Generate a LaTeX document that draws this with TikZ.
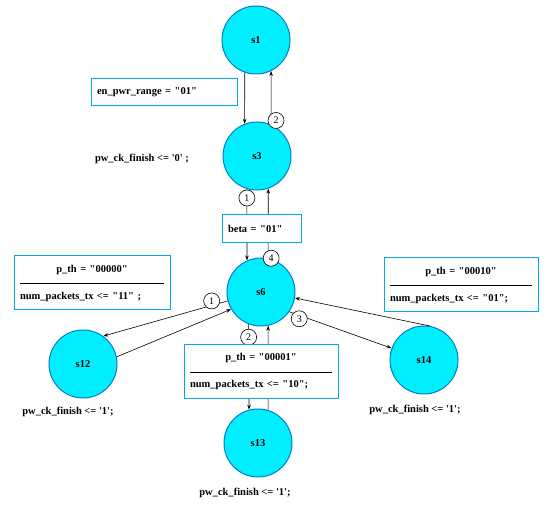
\documentclass[tikz,border=0pt]{standalone}
\usepackage{fontspec}
\setmainfont{Liberation Serif}
\usetikzlibrary{arrows.meta, positioning}
\definecolor{statefill}{RGB}{0,238,255}
\definecolor{stateedge}{RGB}{0,128,200}
\definecolor{boxedge}{RGB}{0,170,230}
\tikzset{
  state/.style={circle, draw=stateedge, fill=statefill, minimum size=68pt,
    inner sep=0pt, line width=1pt, font=\bfseries\fontsize{10.5}{12}\selectfont},
  condbox/.style={rectangle, draw=boxedge, fill=white, line width=1pt,
    align=left, inner xsep=6pt, font=\bfseries\fontsize{10.5}{12}\selectfont},
  actbox/.style={condbox, minimum height=54pt},
  acttext/.style={font=\bfseries\fontsize{10.5}{12}\selectfont, inner sep=0pt},
  numlbl/.style={circle, draw=black, fill=white, minimum size=16pt,
    inner sep=0pt, line width=0.6pt, font=\fontsize{10}{11}\selectfont},
  arrow/.style={-{Stealth[length=5pt, width=3.5pt]}, line width=0.6pt, color=black}
}
\newcommand{\sepline}{\\[0pt]\rule{\hsize}{0.8pt}\\[3pt]}
\newcommand{\qv}[1]{\textquotedbl#1\textquotedbl}
\newcommand{\qb}[1]{\textquotesingle#1\textquotesingle}

\begin{document}
\begin{tikzpicture}[x=1pt, y=-1pt]
  \useasboundingbox (0,0) rectangle (550,510);

  % states
  \node[state] (s1) at (256,40) {s1};
  \node[state] (s3) at (257,156) {s3};
  \node[state] (s6) at (261,292) {s6};
  \node[state] (s12) at (83,364) {s12};
  \node[state] (s13) at (258,443) {s13};
  \node[state] (s14) at (424,360) {s14};

  % transitions
  \draw[arrow] (s1.251) -- (s3.111);
  \draw[arrow] (s3.66) -- node[numlbl, at start, xshift=5pt, yshift=4pt] {2} (s1.296);
  \draw[arrow] (s3.253) -- node[numlbl, at start, yshift=-9pt] {1} (s6.114);
  \draw[arrow] (s6.78) -- node[numlbl, at start, xshift=3pt] {4} (s3.289);
  \draw[arrow] (s6.195) -- node[numlbl, at start, xshift=-16pt] {1} (s12.54);
  \draw[arrow] (s12.12) -- (s6.210);
  \draw[arrow] (s6.325) -- node[numlbl, at start, xshift=10pt, yshift=-7pt] {3} (s14.160);
  \draw[arrow] (s14.80) -- (s6.350);
  \draw[arrow] (s6.249) -- node[numlbl, at start, yshift=-13pt] {2} (s13.105);
  \draw[arrow] (s13.73) -- (s6.282);

  % conditions and actions
  \node[condbox, text width=134pt, minimum height=27pt] (enpwr) at (164,92.5)
    {en\_pwr\_range = \qv{01}};
  \node[condbox, text width=67pt, minimum height=28pt] (beta) at (261.5,229)
    {beta = \qv{01}};
  \node[actbox, text width=144pt] (pth0) at (92,283)
    {\makebox[\hsize]{p\_th = \qv{00000}}\sepline num\_packets\_tx <= \qv{11} ;};
  \node[actbox, text width=142pt] (pth2) at (461,285)
    {\makebox[\hsize]{p\_th = \qv{00010}}\sepline num\_packets\_tx <= \qv{01};};
  \node[actbox, text width=142pt] (pth1) at (261,371.5)
    {\makebox[\hsize]{p\_th = \qv{00001}}\sepline num\_packets\_tx <= \qv{10};};

  \node[acttext] (fin3) at (142,159) {pw\_ck\_finish <= \qb{0} ;};
  \node[acttext] (fin12) at (68,412) {pw\_ck\_finish <= \qb{1};};
  \node[acttext] (fin13) at (245,493) {pw\_ck\_finish <= \qb{1};};
  \node[acttext] (fin14) at (415,410) {pw\_ck\_finish <= \qb{1};};
\end{tikzpicture}
\end{document}
